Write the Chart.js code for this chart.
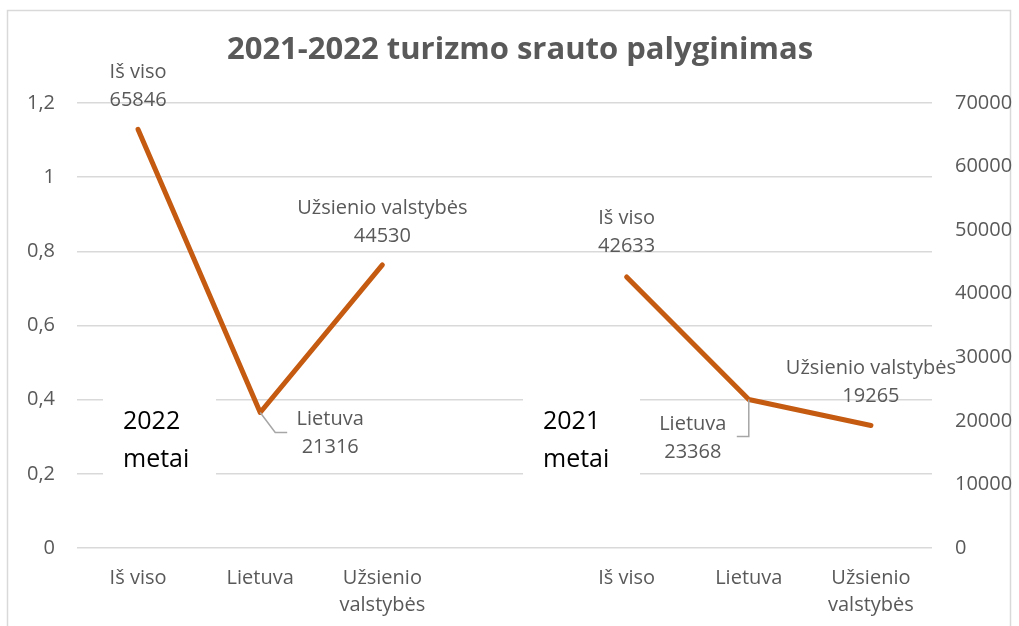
<!DOCTYPE html>
<html>
<head>
<meta charset="utf-8">
<script src="https://cdn.jsdelivr.net/npm/chart.js@4/dist/chart.umd.min.js"></script>
<style>
  body { margin: 0; background: #fff; }
  #wrap { width: 1019px; height: 626px; position: relative; }
</style>
</head>
<body>
<div id="wrap"><canvas id="chart"></canvas></div>
<script>
const kategorijos = ["Iš viso", "Lietuva", "Užsienio valstybės", "", "Iš viso", "Lietuva", "Užsienio valstybės"];
const reiksmes2022 = [65846, 21316, 44530];
const reiksmes2021 = [42633, 23368, 19265];
const metuZymes = ["2022 metai", "2021 metai"];
const kairesTikai = [0, 0.2, 0.4, 0.6, 0.8, 1, 1.2];
const desinesTikai = [0, 10000, 20000, 30000, 40000, 50000, 60000, 70000];
const pavadinimas = "2021-2022 turizmo srauto palyginimas";

const duomenys = [...reiksmes2022, null, ...reiksmes2021];

// label placement per point: [dx, dy of first line, leader line points]
const zymiuPadetis = [
  { dx: 0, dy: -57 },
  { dx: 70, dy: 7, leader: [[0, 0], [15, 20], [27, 20]] },
  { dx: 0, dy: -57 },
  null,
  { dx: 0, dy: -59 },
  { dx: -56, dy: 25, leader: [[0, 0], [0, 37], [-12, 37]] },
  { dx: 0, dy: -57 }
];

const pilka = "#595959";
const sriftas = "'Open Sans', 'Noto Sans', sans-serif";

const piesimas = {
  id: "piesimas",
  beforeDraw(chart) {
    const ctx = chart.ctx;
    ctx.save();
    ctx.strokeStyle = "#d9d9d9";
    ctx.lineWidth = 1.5;
    ctx.strokeRect(7.5, 10.5, 1003, 700);
    ctx.fillStyle = pilka;
    ctx.font = "bold 31px " + sriftas;
    ctx.textAlign = "center";
    ctx.textBaseline = "middle";
    ctx.fillText(pavadinimas, 520, 50);
    ctx.restore();
  },
  beforeDatasetsDraw(chart) {
    const ctx = chart.ctx;
    const boxes = [[103, 216, 123], [523, 640, 543]];
    ctx.save();
    boxes.forEach((b, i) => {
      ctx.fillStyle = "#fff";
      ctx.fillRect(b[0], 392, b[1] - b[0], 90);
      ctx.fillStyle = "#000";
      ctx.font = "25px " + sriftas;
      ctx.textAlign = "left";
      ctx.textBaseline = "middle";
      const eil = metuZymes[i].split(" ");
      ctx.fillText(eil[0], b[2], 422);
      ctx.fillText(eil[1], b[2], 460);
    });
    ctx.restore();
  },
  afterDatasetsDraw(chart) {
    const ctx = chart.ctx;
    const meta = chart.getDatasetMeta(0);
    ctx.save();
    ctx.font = "20px " + sriftas;
    ctx.textAlign = "center";
    ctx.textBaseline = "middle";
    meta.data.forEach((pt, i) => {
      const p = zymiuPadetis[i];
      const v = duomenys[i];
      if (!p || v === null) return;
      if (p.leader) {
        ctx.strokeStyle = "#a6a6a6";
        ctx.lineWidth = 1.5;
        ctx.beginPath();
        p.leader.forEach((l, k) => {
          const fn = k === 0 ? "moveTo" : "lineTo";
          ctx[fn](pt.x + l[0], pt.y + l[1]);
        });
        ctx.stroke();
      }
      ctx.fillStyle = pilka;
      ctx.fillText(kategorijos[i], pt.x + p.dx, pt.y + p.dy);
      ctx.fillText(String(v), pt.x + p.dx, pt.y + p.dy + 28);
    });
    ctx.restore();
  }
};

new Chart(document.getElementById("chart"), {
  type: "line",
  data: {
    labels: kategorijos,
    datasets: [{
      data: duomenys,
      yAxisID: "y2",
      borderColor: "#C55A11",
      borderWidth: 5,
      borderCapStyle: "round",
      borderJoinStyle: "round",
      pointRadius: 0,
      spanGaps: false,
      tension: 0
    }]
  },
  options: {
    responsive: true,
    maintainAspectRatio: false,
    animation: false,
    devicePixelRatio: 1,
    layout: { padding: { top: 103, left: 0, right: 0, bottom: 0 } },
    plugins: { legend: { display: false }, tooltip: { enabled: false }, title: { display: false } },
    scales: {
      x: {
        offset: true,
        grid: { display: false, drawTicks: false },
        border: { display: false },
        ticks: {
          color: pilka,
          font: { family: sriftas, size: 20, lineHeight: 1.35 },
          padding: 17,
          maxRotation: 0,
          autoSkip: false,
          callback: function (v) {
            const l = this.getLabelForValue(v);
            return l.startsWith("Užsienio") ? l.split(" ") : l;
          }
        },
        afterFit: s => { s.height = 78; }
      },
      y: {
        position: "left",
        min: 0,
        max: 1.2,
        grid: { color: "#d9d9d9", lineWidth: 1.5, drawTicks: false },
        border: { display: false },
        ticks: {
          stepSize: 0.2,
          color: pilka,
          font: { family: sriftas, size: 20 },
          padding: 22,
          callback: v => String(Number(v.toFixed(1))).replace(".", ",")
        },
        afterBuildTicks: s => { s.ticks = kairesTikai.map(v => ({ value: v })); },
        afterFit: s => { s.width = 77; }
      },
      y2: {
        position: "right",
        min: 0,
        max: 70000,
        grid: { display: false, drawTicks: false },
        border: { display: false },
        ticks: {
          stepSize: 10000,
          color: pilka,
          font: { family: sriftas, size: 20 },
          padding: 23,
          callback: v => String(v)
        },
        afterBuildTicks: s => { s.ticks = desinesTikai.map(v => ({ value: v })); },
        afterFit: s => { s.width = 87; }
      }
    }
  },
  plugins: [piesimas]
});
</script>
</body>
</html>
